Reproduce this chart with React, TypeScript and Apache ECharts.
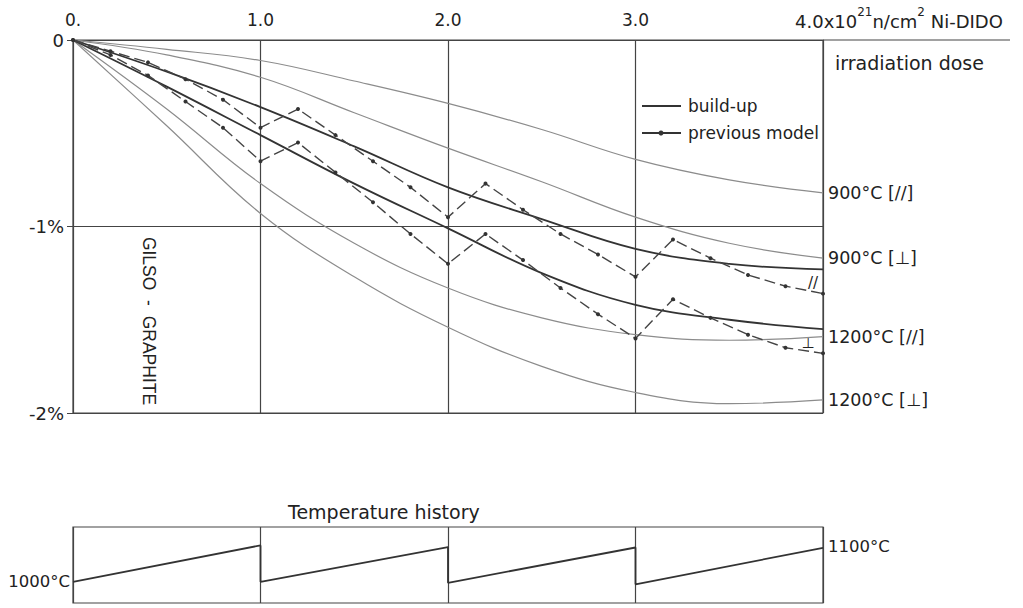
import React, { useEffect, useRef } from "react";
import * as echarts from "echarts";

// Irradiation dose (10^21 n/cm2 Ni-DIDO) for the smooth curves
const doseX = [0, 0.5, 1, 1.5, 2, 2.5, 3, 3.5, 4];
// Constant-temperature curves (thin grey), dimensional change in %
const iso900Par = [0, -0.05, -0.11, -0.22, -0.34, -0.48, -0.64, -0.75, -0.82];
const iso900Perp = [0, -0.08, -0.2, -0.39, -0.58, -0.76, -0.95, -1.09, -1.17];
const iso1200Par = [0, -0.37, -0.77, -1.09, -1.33, -1.49, -1.58, -1.61, -1.59];
const iso1200Perp = [0, -0.46, -0.93, -1.27, -1.54, -1.75, -1.89, -1.95, -1.93];
// Build-up curves (dark)
const buildUpPar = [0, -0.17, -0.36, -0.57, -0.79, -0.96, -1.12, -1.2, -1.23];
const buildUpPerp = [0, -0.25, -0.51, -0.77, -1.01, -1.25, -1.42, -1.5, -1.55];
// Previous model (dash-dot with points)
const modelX = [0, 0.2, 0.4, 0.6, 0.8, 1.0, 1.2, 1.4, 1.6, 1.8, 2.0, 2.2, 2.4, 2.6, 2.8, 3.0, 3.2, 3.4, 3.6, 3.8, 4.0];
const modelPar = [0, -0.06, -0.12, -0.21, -0.32, -0.47, -0.37, -0.51, -0.65, -0.79, -0.95, -0.77, -0.91, -1.04, -1.15, -1.27, -1.07, -1.17, -1.26, -1.32, -1.36];
const modelPerp = [0, -0.08, -0.19, -0.33, -0.47, -0.65, -0.55, -0.71, -0.87, -1.04, -1.2, -1.04, -1.18, -1.33, -1.47, -1.6, -1.39, -1.49, -1.58, -1.65, -1.68];
// Temperature history
const tempX = [0, 1, 1, 2, 2, 3, 3, 4];
const tempC = [1000, 1103, 1000, 1098, 997, 1097, 993, 1096];

const xTickLabels: Record<string, string> = { "0": "0.", "1": "1.0", "2": "2.0", "3": "3.0", "4": "" };
const yTickLabels: Record<string, string> = { "0": "0", "-1": "-1%", "-2": "-2%" };
const isoNames = ["900°C [//]", "900°C [⊥]", "1200°C [//]", "1200°C [⊥]"];

const FONT = "DejaVu Sans";
const INK = "#222";

const zip = (xs: number[], ys: number[]) => xs.map((x, i) => [x, ys[i]]);

export default function App() {
  const ref = useRef<HTMLDivElement>(null);
  useEffect(() => {
    const chart = echarts.init(ref.current!, null, { renderer: "svg" });
    const isoSeries = [iso900Par, iso900Perp, iso1200Par, iso1200Perp].map((ys, i) => ({
      type: "line",
      name: isoNames[i],
      xAxisIndex: 0,
      yAxisIndex: 0,
      data: zip(doseX, ys),
      smooth: 0.4,
      symbol: "none",
      lineStyle: { color: "#8c8c8c", width: 1.2 },
      endLabel: {
        show: true,
        formatter: () => isoNames[i],
        color: INK,
        fontFamily: FONT,
        fontSize: 17.5,
        distance: 5,
      },
      z: 2,
    }));
    const buildSeries = [buildUpPar, buildUpPerp].map((ys) => ({
      type: "line",
      name: "build-up",
      xAxisIndex: 0,
      yAxisIndex: 0,
      data: zip(doseX, ys),
      smooth: 0.4,
      symbol: "none",
      lineStyle: { color: "#333", width: 1.8 },
      z: 3,
    }));
    const modelSeries = [modelPar, modelPerp].map((ys) => ({
      type: "line",
      name: "previous model",
      xAxisIndex: 0,
      yAxisIndex: 0,
      data: zip(modelX, ys),
      symbol: "circle",
      symbolSize: 4,
      itemStyle: { color: "#333" },
      lineStyle: { color: "#444", width: 1.4, type: [11, 5] },
      z: 4,
    }));

    const option: any = {
      animation: false,
      backgroundColor: "#fff",
      grid: [
        { left: 73, top: 40, width: 750, height: 373, show: true, borderColor: "#444", borderWidth: 1.2, backgroundColor: "transparent" },
        { left: 73, top: 527, width: 750, height: 76, show: true, borderColor: "#444", borderWidth: 1.2, backgroundColor: "transparent" },
      ],
      xAxis: [
        {
          type: "value",
          gridIndex: 0,
          position: "top",
          min: 0,
          max: 4,
          interval: 1,
          axisLine: { show: false },
          axisTick: { show: false },
          splitLine: { show: true, lineStyle: { color: "#444", width: 1.2 } },
          axisLabel: {
            margin: 12,
            fontSize: 17,
            fontFamily: FONT,
            color: INK,
            formatter: (v: number) => xTickLabels[String(v)] ?? "",
          },
        },
        {
          type: "value",
          gridIndex: 1,
          min: 0,
          max: 4,
          interval: 1,
          axisLine: { show: false },
          axisTick: { show: false },
          axisLabel: { show: false },
          splitLine: { show: true, lineStyle: { color: "#444", width: 1.2 } },
        },
      ],
      yAxis: [
        {
          type: "value",
          gridIndex: 0,
          min: -2,
          max: 0,
          interval: 1,
          axisLine: { show: false },
          axisTick: { show: true, length: 6, lineStyle: { color: "#444" } },
          splitLine: { show: true, lineStyle: { color: "#444", width: 1.2 } },
          axisLabel: {
            margin: 9,
            fontSize: 18,
            fontFamily: FONT,
            color: INK,
            formatter: (v: number) => yTickLabels[String(v)] ?? "",
          },
        },
        {
          type: "value",
          gridIndex: 1,
          min: 940,
          max: 1155,
          axisLine: { show: false },
          axisTick: { show: false },
          splitLine: { show: false },
          axisLabel: {
            customValues: [1000],
            margin: 3,
            fontSize: 16.5,
            fontFamily: FONT,
            color: INK,
            formatter: () => "1000°C",
          },
        },
        {
          type: "value",
          gridIndex: 1,
          position: "right",
          min: 940,
          max: 1155,
          axisLine: { show: false },
          axisTick: { show: false },
          splitLine: { show: false },
          axisLabel: {
            customValues: [1100],
            margin: 5,
            fontSize: 16.5,
            fontFamily: FONT,
            color: INK,
            formatter: () => "1100°C",
          },
        },
      ],
      series: [
        ...isoSeries,
        ...buildSeries,
        ...modelSeries,
        {
          type: "line",
          name: "Temperature history",
          xAxisIndex: 1,
          yAxisIndex: 1,
          data: zip(tempX, tempC),
          symbol: "none",
          lineStyle: { color: "#333", width: 1.8 },
        },
      ],
      graphic: [
        { type: "line", shape: { x1: 823, y1: 40, x2: 1010, y2: 40 }, style: { stroke: "#444", lineWidth: 1.2 } },
        {
          type: "text",
          x: 795,
          y: 18,
          style: {
            text: "{a|4.0x10}{s|21}{a|n/cm}{s|2}{a| Ni-DIDO}",
            verticalAlign: "middle",
            rich: {
              a: { fontSize: 18, fontFamily: FONT, fill: INK, lineHeight: 24, verticalAlign: "bottom" },
              s: { fontSize: 12, fontFamily: FONT, fill: INK, lineHeight: 24, verticalAlign: "top" },
            },
          },
        },
        { type: "text", x: 835, y: 63, style: { text: "irradiation dose", fontSize: 19, fontFamily: FONT, fill: INK, verticalAlign: "middle" } },
        {
          type: "text",
          x: 149,
          y: 321,
          rotation: -Math.PI / 2,
          style: { text: "GILSO  -  GRAPHITE", fontSize: 17.5, fontFamily: "Liberation Sans", fill: INK, align: "center", verticalAlign: "middle" },
        },
        { type: "line", shape: { x1: 642, y1: 106, x2: 681, y2: 106 }, style: { stroke: "#333", lineWidth: 1.8 } },
        { type: "text", x: 688, y: 106, style: { text: "build-up", fontSize: 17, fontFamily: FONT, fill: INK, verticalAlign: "middle" } },
        { type: "line", shape: { x1: 642, y1: 133, x2: 681, y2: 133 }, style: { stroke: "#333", lineWidth: 1.8 } },
        { type: "circle", shape: { cx: 661, cy: 133, r: 2.5 }, style: { fill: "#333" } },
        { type: "text", x: 688, y: 133, style: { text: "previous model", fontSize: 17, fontFamily: FONT, fill: INK, verticalAlign: "middle" } },
        { type: "text", x: 813, y: 283, style: { text: "//", fontSize: 15, fontFamily: FONT, fill: INK, align: "center", verticalAlign: "middle" } },
        { type: "text", x: 808, y: 343, style: { text: "⊥", fontSize: 15, fontFamily: FONT, fill: "#222", align: "center", verticalAlign: "middle" } },
        { type: "text", x: 288, y: 512, style: { text: "Temperature history", fontSize: 19, fontFamily: FONT, fill: INK, verticalAlign: "middle" } },
      ],
    };
    chart.setOption(option);
    return () => chart.dispose();
  }, []);
  return (
    <div
      ref={ref}
      style={{ position: "fixed", left: 0, top: 0, width: 1023, height: 608, background: "#fff" }}
    />
  );
}
